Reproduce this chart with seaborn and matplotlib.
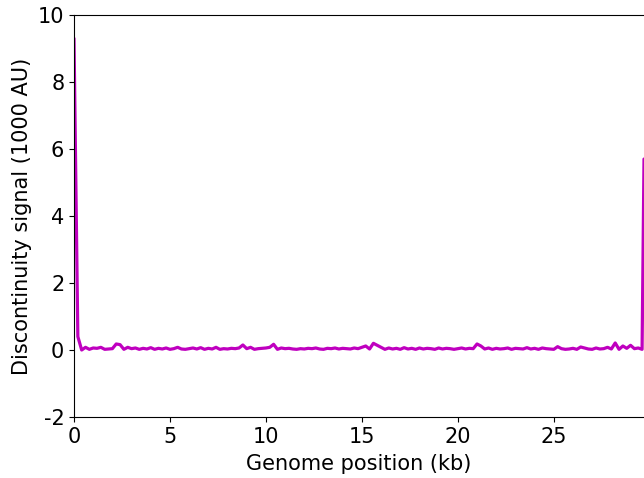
import numpy as np
import pandas as pd
import matplotlib
matplotlib.use("Agg")
import matplotlib.pyplot as plt
import seaborn as sns

# discontinuity signal (1000 AU), sampled every 0.2 kb, last point at genome end
signal = [
    9.3, 0.4, 0.0, 0.08, 0.02, 0.06, 0.05, 0.08, 0.02, 0.03,
    0.04, 0.18, 0.16, 0.02, 0.08, 0.04, 0.06, 0.02, 0.05, 0.03,
    0.07, 0.02, 0.05, 0.03, 0.06, 0.02, 0.04, 0.08, 0.03, 0.02,
    0.04, 0.06, 0.03, 0.07, 0.02, 0.05, 0.03, 0.08, 0.02, 0.04,
    0.03, 0.05, 0.04, 0.06, 0.15, 0.04, 0.08, 0.02, 0.04, 0.05,
    0.06, 0.08, 0.17, 0.02, 0.06, 0.04, 0.05, 0.03, 0.02, 0.04,
    0.03, 0.05, 0.04, 0.06, 0.03, 0.02, 0.05, 0.04, 0.06, 0.03,
    0.05, 0.04, 0.03, 0.06, 0.04, 0.08, 0.12, 0.03, 0.20, 0.14,
    0.08, 0.02, 0.06, 0.03, 0.05, 0.02, 0.07, 0.03, 0.05, 0.02,
    0.06, 0.03, 0.05, 0.04, 0.02, 0.06, 0.03, 0.05, 0.04, 0.02,
    0.04, 0.06, 0.03, 0.05, 0.04, 0.18, 0.12, 0.03, 0.06, 0.02,
    0.05, 0.03, 0.04, 0.06, 0.02, 0.05, 0.04, 0.03, 0.07, 0.03,
    0.05, 0.02, 0.06, 0.04, 0.03, 0.02, 0.10, 0.04, 0.02, 0.03,
    0.05, 0.02, 0.09, 0.06, 0.03, 0.02, 0.06, 0.03, 0.04, 0.08,
    0.03, 0.21, 0.02, 0.12, 0.05, 0.14, 0.04, 0.06, 0.02,
    5.7,
]
positions = list(np.round(np.arange(149) * 0.2, 1)) + [29.7]
genome_end = 29.7

df = pd.DataFrame({"pos": positions, "signal": signal})

sns.set_style("ticks")
plt.rcParams["font.family"] = ["DejaVu Sans"]
plt.rcParams["axes.unicode_minus"] = False
plt.rcParams["text.color"] = "black"
plt.rcParams["axes.labelcolor"] = "black"
plt.rcParams["xtick.color"] = "black"
plt.rcParams["ytick.color"] = "black"
plt.rcParams["axes.edgecolor"] = "black"

fig = plt.figure(figsize=(6.44, 4.78), dpi=100)
ax = fig.add_axes([74 / 644, 61 / 478, 570 / 644, 402 / 478])
sns.lineplot(data=df, x="pos", y="signal", color="m", linewidth=2.3, ax=ax)

ax.set_xlim(0, genome_end)
ax.set_ylim(-2, 10)
ax.set_xticks([0, 5, 10, 15, 20, 25])
ax.set_yticks([-2, 0, 2, 4, 6, 8, 10])
ax.set_xlabel("Genome position (kb)", fontsize=15, labelpad=5)
ax.set_ylabel("Discontinuity signal (1000 AU)", fontsize=15)
ax.tick_params(labelsize=15)
ax.spines["right"].set_visible(False)

fig.savefig("out.png", dpi=100)
